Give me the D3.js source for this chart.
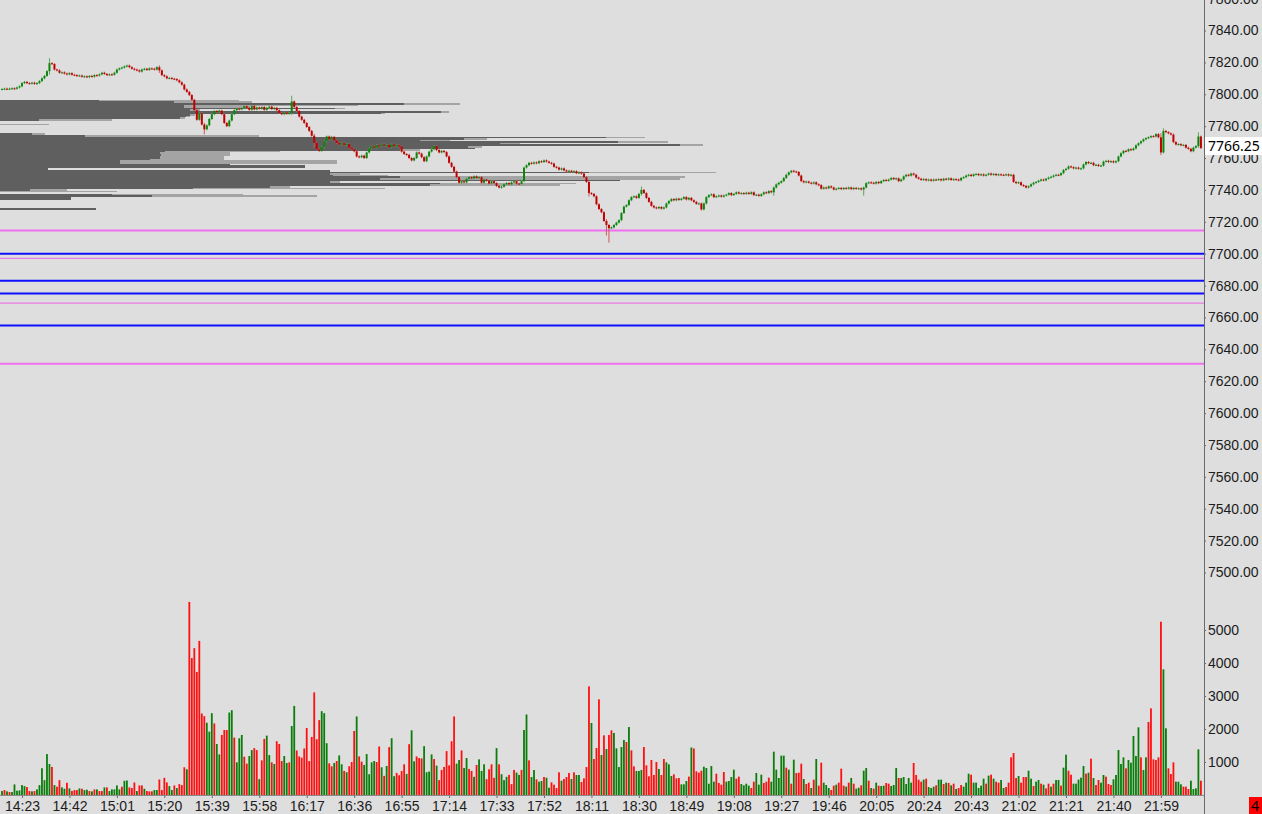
<!DOCTYPE html>
<html>
<head>
<meta charset="utf-8">
<script src="https://cdn.jsdelivr.net/npm/d3@7"></script>
<style>
  body { margin: 0; background: #dedede; overflow: hidden; }
  svg { display: block; font-family: "Noto Sans", "Open Sans", sans-serif; }
</style>
</head>
<body>
<svg id="chart"></svg>
<script>
// one-minute bars, first bar at 14:15
var firstBar = "14:15", lastBar = "22:15";

var closes = [
  7803.25,7803.5,7803.25,7803.5,7803.75,7803.5,7804.25,7805,7807,7807.75,
  7807,7806.75,7807.25,7806.5,7807,7808.25,7810,7811.5,7814.5,7819.5,
  7819,7815.5,7815,7813.5,7813.75,7813,7812.5,7813.25,7812.25,7812,
  7811.5,7811.75,7811,7811.25,7810.75,7811.5,7811,7812,7811.75,7812.5,
  7813.5,7812.75,7812,7812.5,7812.25,7813.5,7815.5,7816.25,7816.75,7817.5,
  7818,7817,7816,7815.5,7815,7814.25,7815.5,7816,7815.25,7816.25,
  7816,7815.5,7817,7815,7812,7811.25,7810,7810.25,7809.75,7809.5,
  7808.75,7807.5,7806,7803,7801.5,7799.5,7796.5,7790,7784,7788,
  7781,7778,7780.5,7784.5,7787.5,7789.5,7788.75,7789.75,7787.5,7782,
  7780,7783.5,7787.5,7790,7791,7790.5,7791.25,7792.5,7791.5,7790.25,
  7792.75,7790.5,7791.75,7791,7792,7790.25,7791.5,7792.25,7790.75,7791.5,
  7790,7788.25,7787.5,7788.5,7787.75,7788.25,7795.5,7792,7789.5,7786,
  7784,7782,7779.5,7777,7774,7769.5,7765.5,7764.5,7767,7770.5,
  7773.5,7771.75,7773.25,7771,7769.5,7768.5,7769.25,7768.25,7768.75,7766.5,
  7765.5,7764.25,7761,7760.5,7761.5,7760,7763.5,7766,7767.25,7766.5,
  7768,7767.5,7768.5,7767.75,7768.25,7766.75,7768.5,7767.5,7768,7767.25,
  7764,7762.5,7762,7760,7758.5,7760,7763.5,7762.75,7760.5,7758,
  7761,7764,7765.5,7767.5,7765,7763.5,7764.5,7763.75,7761,7757,
  7754.5,7751.5,7748,7744.5,7745.5,7744.75,7747,7748,7747.25,7748.5,
  7747.5,7748,7744.5,7746.5,7745.75,7744,7745.5,7744.25,7742.5,7741.5,
  7742,7743.5,7744.25,7743.5,7744.75,7745.5,7744,7743.75,7745.5,7754,
  7755.5,7757,7756.5,7757.25,7756.75,7758,7757.5,7758.5,7757.75,7757,
  7756.5,7754.5,7754,7752.75,7753.5,7752.25,7751.5,7752,7751.25,7751.75,
  7750.5,7751,7750.25,7748,7745,7738,7737.5,7736,7731,7728,
  7726,7720.5,7718,7716,7716.5,7718,7719.5,7721,7725.5,7729.5,
  7730.5,7733.5,7735.5,7736,7735,7737.5,7740,7738,7735,7732.5,
  7730,7729,7728.5,7729.25,7728.25,7729,7731.5,7733,7734.25,7733.5,
  7734.5,7733.75,7734.5,7735.5,7734,7735,7733.5,7732.5,7731.25,7731.5,
  7727.75,7731.5,7735.5,7736.75,7737.25,7735.5,7736,7736.5,7735.75,7736.5,
  7737,7738,7736.75,7737.5,7738.5,7737.75,7738,7737.5,7738.25,7737.5,
  7738.5,7736.75,7737,7736.25,7737.25,7738.5,7738,7739.25,7738.5,7741.5,
  7743.5,7744.5,7745.5,7747.5,7749.5,7751,7752,7751.5,7751.25,7749,
  7745.5,7744.75,7745.25,7744.5,7744,7744.75,7743.5,7743,7740.75,7741.5,
  7741,7742.25,7741.5,7740.25,7740.75,7741.25,7740.5,7741.25,7740.75,7741.5,
  7740.5,7741.25,7740.75,7741,7740.25,7741.5,7744.25,7744.75,7744.5,7744,
  7745,7744.25,7745.5,7746.25,7745.75,7746.5,7747.5,7746.75,7747.25,7745.5,
  7746.5,7748.5,7749.5,7749,7750.25,7749.5,7747.75,7747,7746.25,7746.75,
  7746,7746.5,7745.75,7746.5,7746.25,7746.75,7746,7747,7746.5,7747.25,
  7746.25,7746.75,7746.5,7746,7747.5,7748,7749,7749.5,7748.75,7749.75,
  7750,7749.25,7749.75,7749,7749.5,7750.25,7749.5,7750,7749.25,7749.75,
  7749.5,7749.25,7749.75,7749,7749.5,7745,7744.25,7744.75,7743,7742.5,
  7741.5,7742.25,7743.5,7744.5,7745,7745.75,7746.5,7746,7747,7747.75,
  7748.25,7749,7749.5,7749.25,7750.5,7752.5,7753.25,7754.75,7754.25,7753.5,
  7754,7753.25,7753.5,7756,7757.5,7756.75,7757,7755.5,7755.75,7755,
  7755.25,7757.75,7758.25,7757.5,7758,7757.25,7758,7761,7763,7764.5,
  7764.25,7765.5,7765,7766,7768,7769.25,7770.5,7771.75,7772.5,7773,
  7773.75,7773.5,7775,7773,7763.5,7777,7776.25,7775.5,7774.75,7770,
  7768.5,7768.75,7768,7768.25,7766.5,7765.75,7764.25,7766.5,7767.5,7773.5,7766.25
];

var volumes = [
  120,150,110,90,90,320,130,140,300,270,
  240,120,110,120,170,300,810,450,1240,940,
  850,300,250,450,230,190,370,200,120,150,
  150,200,190,150,160,120,110,170,170,120,
  120,230,230,120,170,170,290,170,250,430,
  440,230,210,380,120,290,290,190,120,110,
  110,150,150,470,150,520,380,270,150,290,
  210,330,300,840,780,5850,4150,4450,3730,4670,
  2470,2390,2190,1920,2480,2170,1545,1230,1820,1970,
  1970,2500,2570,1740,990,1720,1820,1160,950,1180,
  1360,1420,1360,480,1050,1700,1800,1210,990,940,
  1630,1545,1030,1180,970,990,2090,2700,1350,1170,
  1130,1410,2030,1030,1760,3110,1690,2270,2540,2480,
  1570,960,870,970,1030,1200,930,730,690,870,
  1000,1940,2380,1170,1010,910,1240,630,990,1030,
  1000,1470,840,580,880,1450,1720,570,670,600,
  730,930,640,1540,1960,1020,1170,1120,1110,1480,
  690,710,1230,1090,890,450,760,850,1330,900,
  1630,2380,950,1060,1350,820,1120,790,730,550,
  910,1080,730,930,480,780,930,520,1420,930,
  630,450,550,610,330,760,680,610,760,1970,
  2440,1050,545,758,475,404,424,545,525,222,
  384,313,212,687,434,485,545,667,485,687,
  606,606,394,505,848,3293,2182,1091,1424,2899,
  1212,1808,1394,1818,1959,1879,1414,848,1454,1667,
  1606,2060,1353,869,727,727,758,1454,899,566,
  1061,606,1000,788,606,1091,990,929,576,626,
  505,515,323,323,424,556,1440,1410,717,677,
  737,858,818,343,879,404,646,364,313,697,
  404,424,545,768,495,556,333,293,343,283,
  212,404,667,313,616,364,404,525,404,1313,
  768,515,1192,1192,828,768,343,1071,667,677,
  949,485,333,374,212,465,1091,283,980,374,
  303,212,152,283,313,374,798,283,253,374,
  515,343,192,222,293,737,818,434,212,192,
  374,283,273,283,364,343,273,303,818,515,
  515,545,333,515,374,970,606,465,404,465,
  495,242,212,253,293,465,465,333,374,364,
  293,343,182,212,303,253,374,646,616,374,
  374,212,283,495,343,586,616,495,404,374,
  455,212,242,374,1141,1273,515,576,374,545,
  545,737,495,273,404,455,343,313,202,343,
  253,343,455,455,283,828,1222,737,616,343,
  343,465,525,879,646,677,1101,515,303,455,
  374,606,556,333,303,475,606,1364,939,1141,
  808,1061,980,1788,1182,2050,1141,758,1141,2212,
  2626,1081,1061,1141,5252,3808,2020,808,636,990,
  404,404,323,253,253,182,434,182,202,1384,434
];

// bar direction as shown by the volume colours (g = up, r = down)
var sides = [
  "grgrgggggg","rrgrgggggg","rgrrggrgrr","rgrggrgrgr","rgrgggggrg",
  "grrrgrrgrr","rggrrrrggr","grrrgrrrrr","rrgggrggrr","rggrgggrrg",
  "grrgrrggrg","rrrggrggrr","rrrrrrrrgg","grrgrggrgr","rrgrrggggg",
  "rrgrgrggrr","rrgrggrrrg","gggrgrrrrr","rrggrggrrg","rgggrrrrgr",
  "gggrrrggrg","grggrggrgg","rrrrgrrrgr","ggrrrrgrrr","grgrrggggg",
  "rgrrgggrrr","rrrgrrgggr","rrgggrgrrr","rgggggrrrr","ggggrrgggg",
  "rrgggrrrgg","ggggrgrgrr","rgrrgrgrrg","ggrrgrrrgr","grggrggrgr",
  "grggrrgggr","gggggrrrrg","rgggrggrgr","grgrrgggrg","ggggrgrgrr",
  "ggrrrrrgrr","rggrggrgrr","grggrggrrg","ggggrgrgrr","ggrrrggggg",
  "rgggggrggr","rrrrrggrrr","gggrrrggggr"
].join("").split("");

// notable wicks: [bar, high, low]
var wicks = [
  [19, 7822, 7813], [63, 7817.5, 7814], [81, 7781.5, 7775.5], [116, 7798.5, 7787.5],
  [125, 7774.5, 7767], [235, 7745, 7736.5], [242, 7721, 7712], [243, 7718, 7707.5],
  [256, 7741.5, 7737], [309, 7741.5, 7737], [345, 7741.5, 7737], [464, 7775, 7762.5],
  [465, 7778, 7763.5], [479, 7775.5, 7767]
];

// volume profile, one row per point: price, main volume, total volume
var profilePrices = d3.range(7796, 7727, -1);
var profileMain = [
  990,1740,4040,1840,1840,3350,1900,4410,3810,1900,1860,1800,390,0,0,0,0,0,0,0,0,
  320,850,6060,4640,4200,6180,5000,6800,4680,4750,4000,1650,1600,1610,1600,1600,1500,1200,1200,
  2300,3050,3050,480,3300,5890,3300,3330,4000,3800,6200,3300,4400,4300,2700,1930,300,0,0,
  1120,1520,710,710,0,0,0,0,0,960
];
var profileTotal = [
  2390,2520,4600,3580,2500,3450,2000,4490,3850,1950,1900,1850,1120,0,0,490,0,0,0,0,0,
  450,2590,6450,4870,4500,6680,5200,7030,4820,4750,4200,2800,2300,2300,2240,2240,2240,3370,3370,
  2300,3050,3050,480,3300,7160,3600,3880,6850,6800,6200,3400,5760,5600,2900,3850,670,1170,0,
  2430,3170,710,710,0,0,0,0,0,960
];

// horizontal levels
var levelPrices = [7714.5, 7700, 7697, 7683, 7675, 7669, 7655, 7631];
var levelKinds  = ["pink", "blue", "pinkThin", "blue", "blue", "pinkThin", "blue", "pink"];

var priceTicks = d3.range(7500, 7861, 20);
var volumeTicks = [1000, 2000, 3000, 4000, 5000];
var timeTicks = ["14:23","14:42","15:01","15:20","15:39","15:58","16:17","16:36","16:55",
  "17:14","17:33","17:52","18:11","18:30","18:49","19:08","19:27","19:46","20:05",
  "20:24","20:43","21:02","21:21","21:40","21:59"];
var lastPrice = 7766.25;

var width = 1262, height = 814, axisX = 1204, baseY = 795;
var parse = d3.timeParse("%H:%M");
var t0 = parse(firstBar);

var svg = d3.select("#chart").attr("width", width).attr("height", height);
svg.append("rect").attr("width", width).attr("height", height).attr("fill", "#dedede");

var x = d3.scaleTime().domain([t0, parse(lastBar)]).range([2, 1200.9]);
var y = d3.scaleLinear().domain([7500, 7840]).range([572.5, 30.5]);
var yv = d3.scaleLinear().domain([0, 6000]).range([baseY, 597]);
var px = d3.scaleLinear().domain([0, 7200]).range([0, 720]);

var bars = closes.map(function (c, i) {
  var o = i ? closes[i - 1] : c;
  return { i: i, t: d3.timeMinute.offset(t0, i), o: o, c: c, hi: Math.max(o, c), lo: Math.min(o, c),
           v: volumes[i], side: sides[i] };
});
wicks.forEach(function (w) { bars[w[0]].hi = w[1]; bars[w[0]].lo = w[2]; });

// volume profile
var rowH = y(7700) - y(7701);
var prof = svg.append("g").attr("shape-rendering", "crispEdges");
prof.selectAll(".tot").data(profilePrices).enter().append("rect")
  .attr("x", 0).attr("y", function (p) { return y(p + 0.5); })
  .attr("width", function (p, k) { return px(profileTotal[k]); })
  .attr("height", rowH).attr("fill", "#a4a4a4");
prof.selectAll(".main").data(profilePrices).enter().append("rect")
  .attr("x", 0).attr("y", function (p) { return y(p + 0.5); })
  .attr("width", function (p, k) { return px(profileMain[k]); })
  .attr("height", rowH).attr("fill", "#5f5f5f");

// levels
var levelStyle = { pink: ["#f06ff0", 2], blue: ["#1010ff", 2], pinkThin: ["#ea7ae6", 1.3] };
svg.append("g").selectAll("line").data(levelPrices).enter().append("line")
  .attr("x1", 0).attr("x2", axisX)
  .attr("y1", function (d) { return y(d); }).attr("y2", function (d) { return y(d); })
  .attr("stroke", function (d, k) { return levelStyle[levelKinds[k]][0]; })
  .attr("stroke-width", function (d, k) { return levelStyle[levelKinds[k]][1]; });

// candles
function up(d) { return d.c > d.o || (d.c === d.o && d.side === "g"); }
var cg = svg.append("g");
cg.selectAll("line").data(bars).enter().append("line")
  .attr("x1", function (d) { return x(d.t); }).attr("x2", function (d) { return x(d.t); })
  .attr("y1", function (d) { return y(d.hi) - 1; }).attr("y2", function (d) { return y(d.lo) + 1; })
  .attr("stroke", function (d) { return up(d) ? "#5aa85a" : "#c85a5a"; }).attr("stroke-width", 1);
cg.selectAll("rect").data(bars).enter().append("rect")
  .attr("x", function (d) { return x(d.t) - 1; }).attr("width", 2)
  .attr("y", function (d) { return y(Math.max(d.o, d.c)); })
  .attr("height", function (d) { return Math.max(1, y(Math.min(d.o, d.c)) - y(Math.max(d.o, d.c))); })
  .attr("fill", function (d) { return up(d) ? "#0b850b" : "#bf0000"; });

// volume
svg.append("g").selectAll("rect").data(bars).enter().append("rect")
  .attr("x", function (d) { return x(d.t) - 0.9; }).attr("width", 1.8)
  .attr("y", function (d) { return yv(d.v); })
  .attr("height", function (d) { return baseY - yv(d.v); })
  .attr("fill", function (d) { return d.side === "g" ? "#0a7d0a" : "#ff1010"; });

// axes
function styleAxis(g) {
  g.select(".domain").remove();
  g.selectAll("line").attr("stroke", "#6a6a6a");
  g.selectAll("text").attr("fill", "#1c1c1c").style("font-size", "14px");
}
svg.append("g").attr("transform", "translate(" + axisX + ",0)")
  .call(d3.axisRight(y).tickValues(priceTicks).tickFormat(d3.format(".2f")).tickSize(2).tickPadding(2))
  .call(styleAxis);
svg.append("g").attr("transform", "translate(" + axisX + ",0)")
  .call(d3.axisRight(yv).tickValues(volumeTicks).tickFormat(d3.format("d")).tickSize(2).tickPadding(2))
  .call(styleAxis);
svg.append("g").attr("transform", "translate(0," + baseY + ")")
  .call(d3.axisBottom(x).tickValues(timeTicks.map(parse)).tickFormat(d3.timeFormat("%H:%M")).tickSize(3).tickPadding(3))
  .call(styleAxis);
svg.append("line").attr("x1", 0).attr("x2", axisX).attr("y1", baseY + 0.5).attr("y2", baseY + 0.5)
  .attr("stroke", "#8a8a8a");
svg.append("line").attr("x1", axisX + 0.5).attr("x2", axisX + 0.5).attr("y1", 0).attr("y2", height)
  .attr("stroke", "#6a6a6a");

// last price marker
var ly = y(lastPrice);
svg.append("rect").attr("x", axisX + 1).attr("y", ly - 11).attr("width", width - axisX - 1).attr("height", 18)
  .attr("fill", "#ffffff");
svg.append("text").attr("x", axisX + 4).attr("y", ly - 2).attr("dy", "0.35em")
  .style("font-size", "14px").attr("fill", "#000").text(d3.format(".2f")(lastPrice));

// bottom-right marker
svg.append("rect").attr("x", 1249).attr("y", 797).attr("width", 13).attr("height", 17).attr("fill", "#ff0000");
svg.append("text").attr("x", 1251).attr("y", 811).style("font-size", "14px").attr("fill", "#000").text("4");
</script>
</body>
</html>
